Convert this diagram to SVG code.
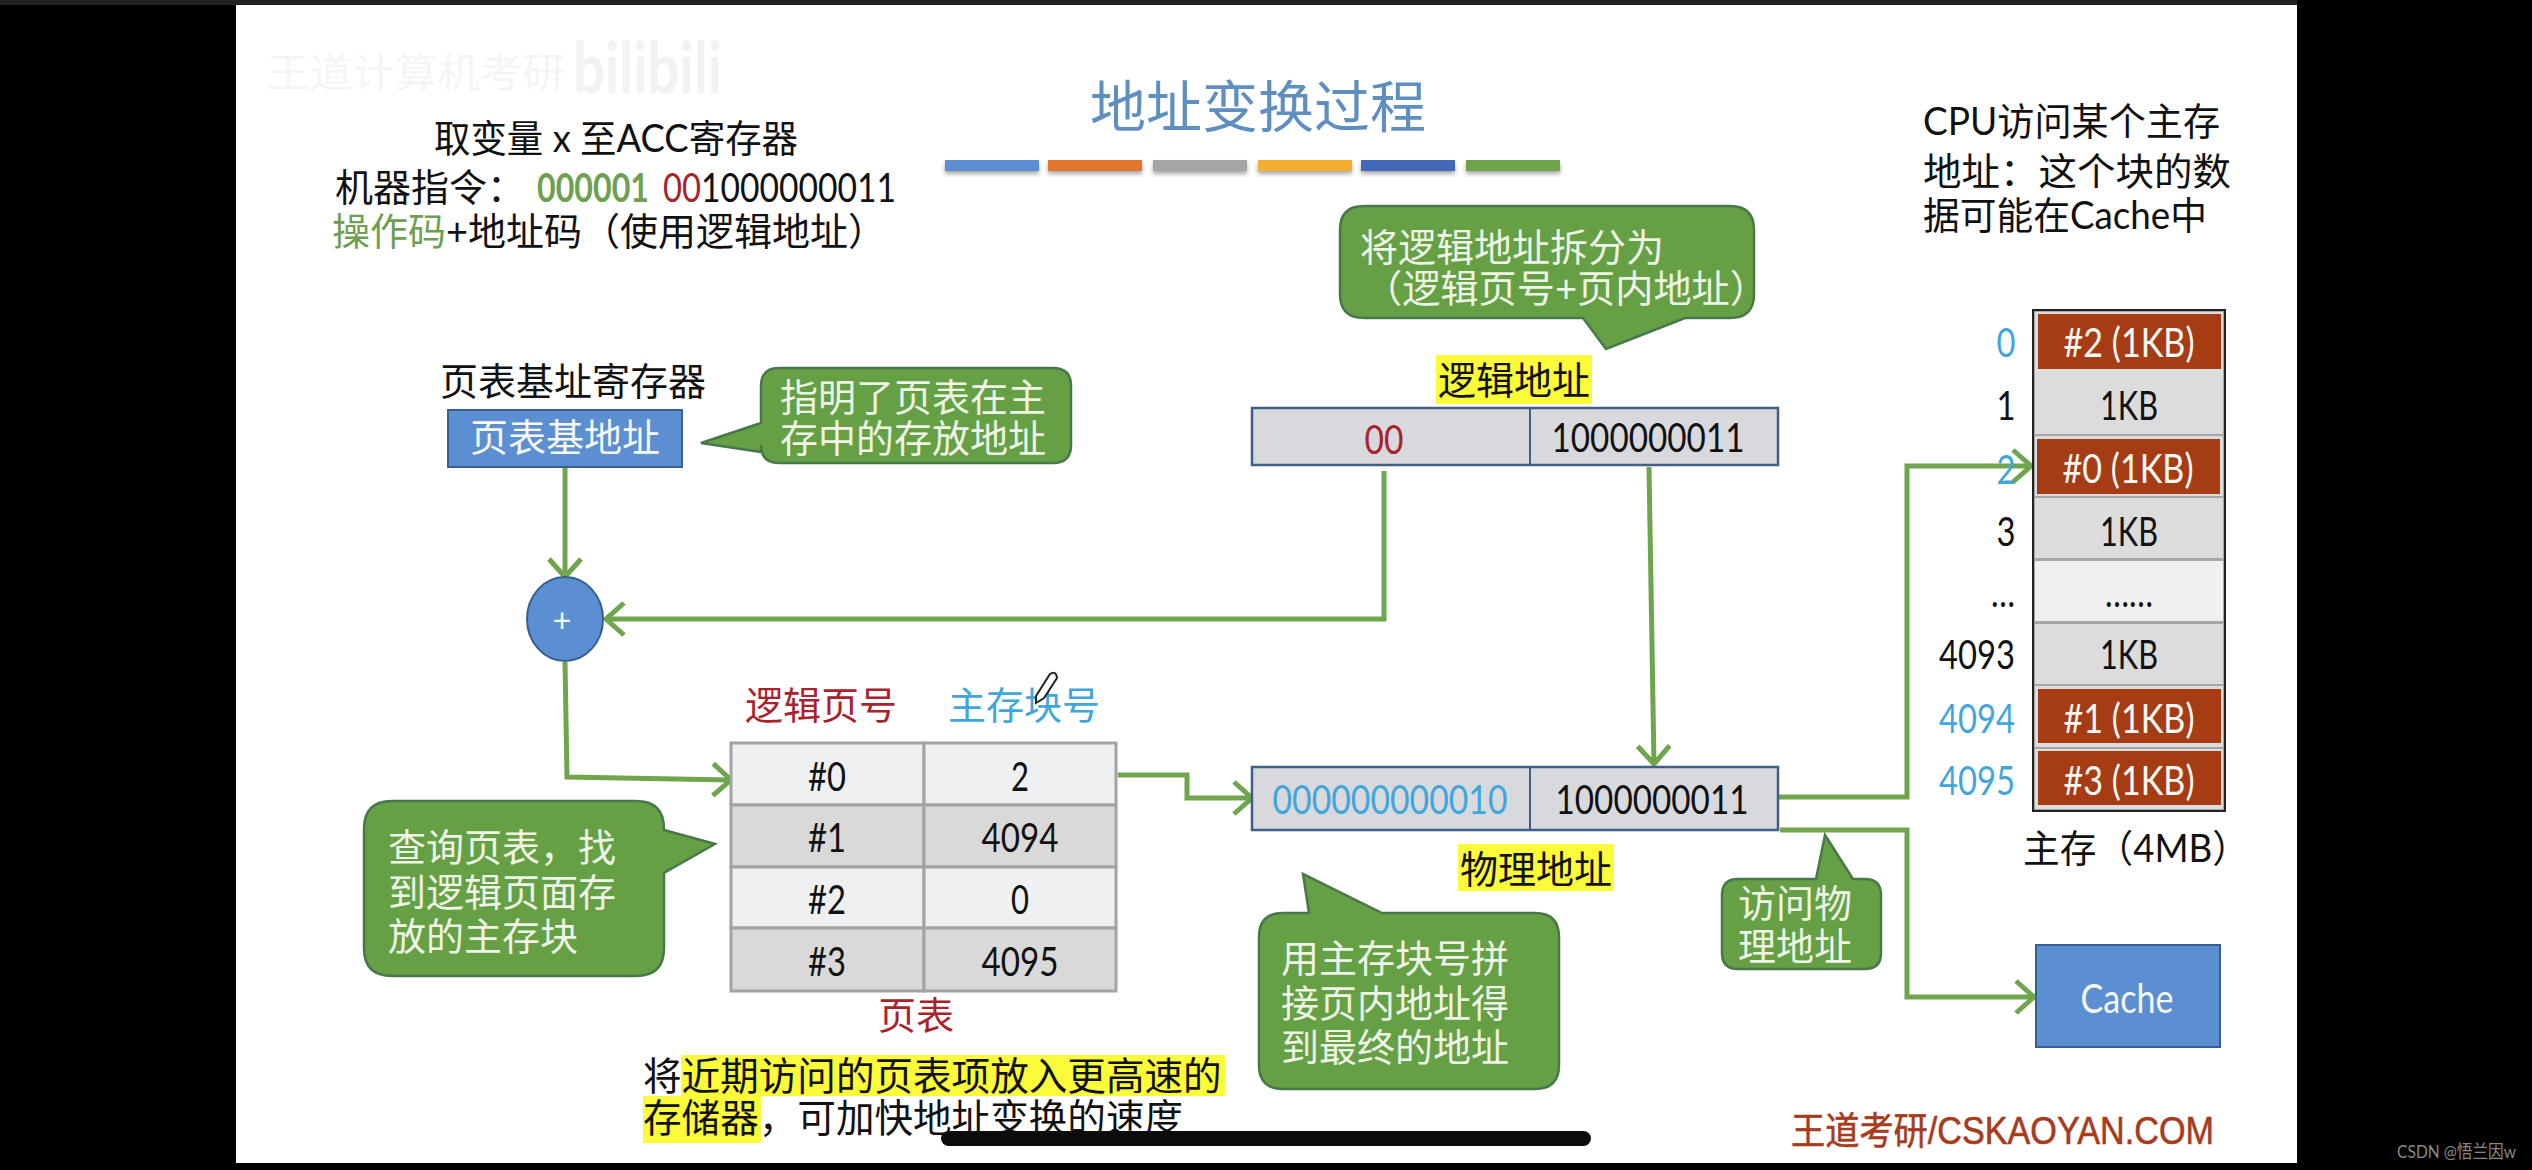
<svg xmlns="http://www.w3.org/2000/svg" width="2532" height="1170" viewBox="0 0 2532 1170">
<defs>
<style>
text{font-family:Lato,"Noto Sans CJK SC",sans-serif;font-size:38px;dominant-baseline:central;fill:#111}
.m{text-anchor:middle}.e{text-anchor:end}
.n{font-size:41px}
.w{fill:#eef4e6}.wb{fill:#f6f8f4}
.c{fill:#65a045;stroke:#48784a;stroke-width:2.5}
.r{fill:#a63c14}.b{fill:#5b8fd1;stroke:#35608f;stroke-width:2}
.red{fill:#a8232b}.blue{fill:#41a6dc}.gr{fill:#6f9f50}
.hl{fill:#fbfb3a}
.l{fill:none;stroke:#6fa54c;stroke-width:5}
.cell{stroke:#a3a3a3;stroke-width:3}
.addr{fill:#d8d9dd;stroke:#3f5f88;stroke-width:2.5}
</style>
<marker id="a" markerUnits="userSpaceOnUse" markerWidth="30" markerHeight="44" refX="24" refY="22" orient="auto"><path d="M6 6L24 22L6 38" fill="none" stroke="#6fa54c" stroke-width="5"/></marker>
<filter id="s" x="-5%" y="-30%" width="110%" height="180%"><feDropShadow dx="0" dy="3" stdDeviation="2" flood-color="#000" flood-opacity=".35"/></filter>
</defs>
<rect width="2532" height="1170" fill="#000"/>
<rect x="0" y="0" width="2297" height="5" fill="#222"/>
<rect x="236" y="5" width="2061" height="1158" fill="#fff"/>
<g id="watermark">
<text x="267" y="72" style="font-size:40px;fill:#f5f5f5" textLength="298" lengthAdjust="spacingAndGlyphs">王道计算机考研</text>
<text x="573" y="66" style="font-size:70px;font-weight:700;fill:#f2f2f2" textLength="149" lengthAdjust="spacingAndGlyphs">bilibili</text>
</g>
<g id="title">
<text class="m" x="1258" y="105" style="font-size:56px;fill:#5f8fc0">地址变换过程</text>
<g filter="url(#s)">
<rect x="945" y="160" width="94" height="11" fill="#5b8fd1"/>
<rect x="1048" y="160" width="94" height="11" fill="#e2762f"/>
<rect x="1153" y="160" width="94" height="11" fill="#a5a5a5"/>
<rect x="1258" y="160" width="94" height="11" fill="#f2b02f"/>
<rect x="1361" y="160" width="94" height="11" fill="#4369b8"/>
<rect x="1466" y="160" width="94" height="11" fill="#6ea34c"/>
</g>
</g>
<g id="instruction">
<text x="434" y="137" textLength="364" lengthAdjust="spacingAndGlyphs">取变量 x 至ACC寄存器</text>
<text x="335" y="186">机器指令：</text>
<text x="537" y="186" class="gr n" style="font-weight:700" textLength="112" lengthAdjust="spacingAndGlyphs">000001</text>
<text x="663" y="186" class="red n" textLength="38" lengthAdjust="spacingAndGlyphs">00</text><text x="701" y="186" class="n" textLength="195" lengthAdjust="spacingAndGlyphs">1000000011</text>
<text x="332" y="230"><tspan class="gr">操作码</tspan>+地址码（使用逻辑地址）</text>
</g>
<g id="cpu-note">
<text x="1923" y="120" textLength="297" lengthAdjust="spacingAndGlyphs">CPU访问某个主存</text>
<text x="1923" y="170" textLength="308" lengthAdjust="spacingAndGlyphs">地址：这个块的数</text>
<text x="1923" y="214" textLength="284" lengthAdjust="spacingAndGlyphs">据可能在Cache中</text>
</g>
<g id="connectors">
<path class="l" d="M565 467V577" marker-end="url(#a)"/>
<path class="l" d="M1384 471V619H606" marker-end="url(#a)"/>
<path class="l" d="M565 662L567 777L731 780" marker-end="url(#a)"/>
<path class="l" d="M1118 775H1187V798H1252" marker-end="url(#a)"/>
<path class="l" d="M1649 467L1654 764" marker-end="url(#a)"/>
<path class="l" d="M1778 797H1907V466H2031" marker-end="url(#a)"/>
<path class="l" d="M1780 830H1907V997H2034" marker-end="url(#a)"/>
</g>
<g id="page-table-base-register">
<text x="440" y="380">页表基址寄存器</text>
<rect class="b" x="448" y="410" width="234" height="57"/>
<text class="m wb" x="565" y="436">页表基地址</text>
</g>
<g id="callout-base">
<path class="c" d="M779 368H1053Q1071 368 1071 386V445Q1071 463 1053 463H779Q761 463 761 445V452L701 443L761 423V386Q761 368 779 368Z"/>
<text class="w" x="780" y="396">指明了页表在主</text>
<text class="w" x="780" y="437">存中的存放地址</text>
</g>
<g id="adder">
<ellipse class="b" cx="565" cy="619" rx="38" ry="42"/>
<text class="m wb" x="562" y="619" style="font-size:32px">+</text>
</g>
<g id="callout-split">
<path class="c" d="M1364 206H1730Q1754 206 1754 230V294Q1754 318 1730 318H1685L1606 349L1583 318H1364Q1340 318 1340 294V230Q1340 206 1364 206Z"/>
<text class="w" x="1360" y="246">将逻辑地址拆分为</text>
<text class="w" x="1364" y="287" textLength="404" lengthAdjust="spacingAndGlyphs">（逻辑页号+页内地址）</text>
</g>
<g id="logical-address">
<rect class="hl" x="1436" y="355" width="156" height="49"/>
<text class="m" x="1514" y="379">逻辑地址</text>
<rect class="addr" x="1252" y="408" width="526" height="57"/>
<path d="M1530 408V465" stroke="#3f5f88" stroke-width="2"/>
<text class="m red n" x="1384" y="438" textLength="39" lengthAdjust="spacingAndGlyphs">00</text>
<text class="m n" x="1648" y="436" textLength="193" lengthAdjust="spacingAndGlyphs">1000000011</text>
</g>
<g id="page-table">
<text class="m red" x="821" y="704">逻辑页号</text>
<text class="m blue" x="1024" y="704">主存块号</text>
<path d="M1036 696L1050 674Q1056 670 1057 678L1044 698L1036 703Z" fill="#fff" stroke="#222" stroke-width="2"/>
<rect class="cell" x="731" y="743" width="193" height="62" fill="#eef0f2"/>
<rect class="cell" x="924" y="743" width="192" height="62" fill="#eef0f2"/>
<rect class="cell" x="731" y="805" width="193" height="62" fill="#d9d9d9"/>
<rect class="cell" x="924" y="805" width="192" height="62" fill="#d9d9d9"/>
<rect class="cell" x="731" y="867" width="193" height="61" fill="#eef0f2"/>
<rect class="cell" x="924" y="867" width="192" height="61" fill="#eef0f2"/>
<rect class="cell" x="731" y="928" width="193" height="63" fill="#d9d9d9"/>
<rect class="cell" x="924" y="928" width="192" height="63" fill="#d9d9d9"/>
<text class="m n" x="827" y="775" textLength="38" lengthAdjust="spacingAndGlyphs">#0</text><text class="m n" x="1020" y="775" textLength="18" lengthAdjust="spacingAndGlyphs">2</text>
<text class="m n" x="827" y="836" textLength="38" lengthAdjust="spacingAndGlyphs">#1</text><text class="m n" x="1020" y="836" textLength="77" lengthAdjust="spacingAndGlyphs">4094</text>
<text class="m n" x="827" y="898" textLength="38" lengthAdjust="spacingAndGlyphs">#2</text><text class="m n" x="1020" y="898" textLength="18" lengthAdjust="spacingAndGlyphs">0</text>
<text class="m n" x="827" y="960" textLength="38" lengthAdjust="spacingAndGlyphs">#3</text><text class="m n" x="1020" y="960" textLength="77" lengthAdjust="spacingAndGlyphs">4095</text>
<text class="m red" x="916" y="1014">页表</text>
</g>
<g id="callout-lookup">
<path class="c" d="M392 801H636Q664 801 664 829V830L715 844L664 873V948Q664 976 636 976H392Q364 976 364 948V829Q364 801 392 801Z"/>
<text class="w" x="388" y="846">查询页表，找</text>
<text class="w" x="388" y="891">到逻辑页面存</text>
<text class="w" x="388" y="935">放的主存块</text>
</g>
<g id="physical-address">
<rect class="addr" x="1252" y="767" width="526" height="63"/>
<path d="M1530 767V830" stroke="#3f5f88" stroke-width="2"/>
<text class="m blue n" x="1390" y="798" textLength="235" lengthAdjust="spacingAndGlyphs">000000000010</text>
<text class="m n" x="1652" y="798" textLength="193" lengthAdjust="spacingAndGlyphs">1000000011</text>
<rect class="hl" x="1458" y="844" width="156" height="47"/>
<text class="m" x="1536" y="868">物理地址</text>
</g>
<g id="callout-concat">
<path class="c" d="M1283 913H1309L1303 874L1382 913H1535Q1559 913 1559 937V1065Q1559 1089 1535 1089H1283Q1259 1089 1259 1065V937Q1259 913 1283 913Z"/>
<text class="w" x="1281" y="957">用主存块号拼</text>
<text class="w" x="1281" y="1002">接页内地址得</text>
<text class="w" x="1281" y="1046">到最终的地址</text>
</g>
<g id="callout-access">
<path class="c" d="M1738 879H1816L1825 835L1853 879H1865Q1881 879 1881 895V953Q1881 969 1865 969H1738Q1722 969 1722 953V895Q1722 879 1738 879Z"/>
<text class="w" x="1738" y="902">访问物</text>
<text class="w" x="1738" y="945">理地址</text>
</g>
<g id="main-memory">
<rect x="2033" y="310" width="192" height="501" fill="#a6a6a6" stroke="#222" stroke-width="2"/>
<rect x="2035" y="372" width="188" height="62" fill="#dcdcdc"/>
<rect x="2035" y="498" width="188" height="60" fill="#dcdcdc"/>
<rect x="2035" y="561" width="188" height="60" fill="#f0f0f0"/>
<rect x="2035" y="624" width="188" height="60" fill="#dcdcdc"/>
<rect x="2035" y="312" width="188" height="60" fill="#dcdcdc"/>
<rect x="2035" y="436" width="188" height="60" fill="#dcdcdc"/>
<rect x="2035" y="686" width="188" height="61" fill="#dcdcdc"/>
<rect x="2035" y="749" width="188" height="60" fill="#dcdcdc"/>
<rect class="r" x="2038" y="314" width="183" height="55"/>
<rect class="r" x="2037" y="439" width="183" height="55"/>
<rect class="r" x="2038" y="689" width="183" height="54"/>
<rect class="r" x="2038" y="751" width="183" height="54"/>
<text class="m wb n" x="2129" y="341" textLength="131" lengthAdjust="spacingAndGlyphs">#2 (1KB)</text>
<text class="m n" x="2129" y="404" textLength="58" lengthAdjust="spacingAndGlyphs">1KB</text>
<text class="m wb n" x="2128" y="467" textLength="131" lengthAdjust="spacingAndGlyphs">#0 (1KB)</text>
<text class="m n" x="2129" y="530" textLength="58" lengthAdjust="spacingAndGlyphs">1KB</text>
<text class="m" x="2129" y="592" textLength="48" lengthAdjust="spacingAndGlyphs">……</text>
<text class="m n" x="2129" y="653" textLength="58" lengthAdjust="spacingAndGlyphs">1KB</text>
<text class="m wb n" x="2129" y="717" textLength="131" lengthAdjust="spacingAndGlyphs">#1 (1KB)</text>
<text class="m wb n" x="2129" y="779" textLength="131" lengthAdjust="spacingAndGlyphs">#3 (1KB)</text>
<text class="m blue n" x="2006" y="341" textLength="19" lengthAdjust="spacingAndGlyphs">0</text>
<text class="m n" x="2006" y="404" textLength="19" lengthAdjust="spacingAndGlyphs">1</text>
<text class="m blue n" x="2006" y="468" textLength="19" lengthAdjust="spacingAndGlyphs">2</text>
<text class="m n" x="2006" y="530" textLength="19" lengthAdjust="spacingAndGlyphs">3</text>
<text class="m" x="2003" y="592" textLength="24" lengthAdjust="spacingAndGlyphs">…</text>
<text class="m n" x="1977" y="653" textLength="76" lengthAdjust="spacingAndGlyphs">4093</text>
<text class="m blue n" x="1977" y="717" textLength="76" lengthAdjust="spacingAndGlyphs">4094</text>
<text class="m blue n" x="1977" y="779" textLength="76" lengthAdjust="spacingAndGlyphs">4095</text>
<text x="2023" y="847" textLength="226" lengthAdjust="spacingAndGlyphs">主存（4MB）</text>
</g>
<g id="cache">
<rect class="b" x="2036" y="945" width="184" height="102"/>
<text class="m wb n" x="2127" y="997" textLength="93" lengthAdjust="spacingAndGlyphs">Cache</text>
</g>
<g id="tlb-note">
<rect class="hl" x="681" y="1055" width="544" height="41"/>
<rect class="hl" x="643" y="1096" width="118" height="47"/>
<text x="643" y="1075" style="font-size:38.6px">将近期访问的页表项放入更高速的</text>
<text x="643" y="1117" style="font-size:38.6px">存储器，可加快地址变换的速度</text>
</g>
<rect x="941" y="1131" width="650" height="15" rx="7.5" fill="#0c0c0c"/>
<text x="1791" y="1131" style="font-size:38px;fill:#a63c1e;font-family:'Liberation Sans','Noto Sans CJK SC',sans-serif;stroke:#a63c1e;stroke-width:.6" textLength="423" lengthAdjust="spacingAndGlyphs">王道考研/CSKAOYAN.COM</text>
<text x="2397" y="1151" style="font-size:18px;fill:#8a8a8a" textLength="119" lengthAdjust="spacingAndGlyphs">CSDN @悟兰因w</text>
</svg>
